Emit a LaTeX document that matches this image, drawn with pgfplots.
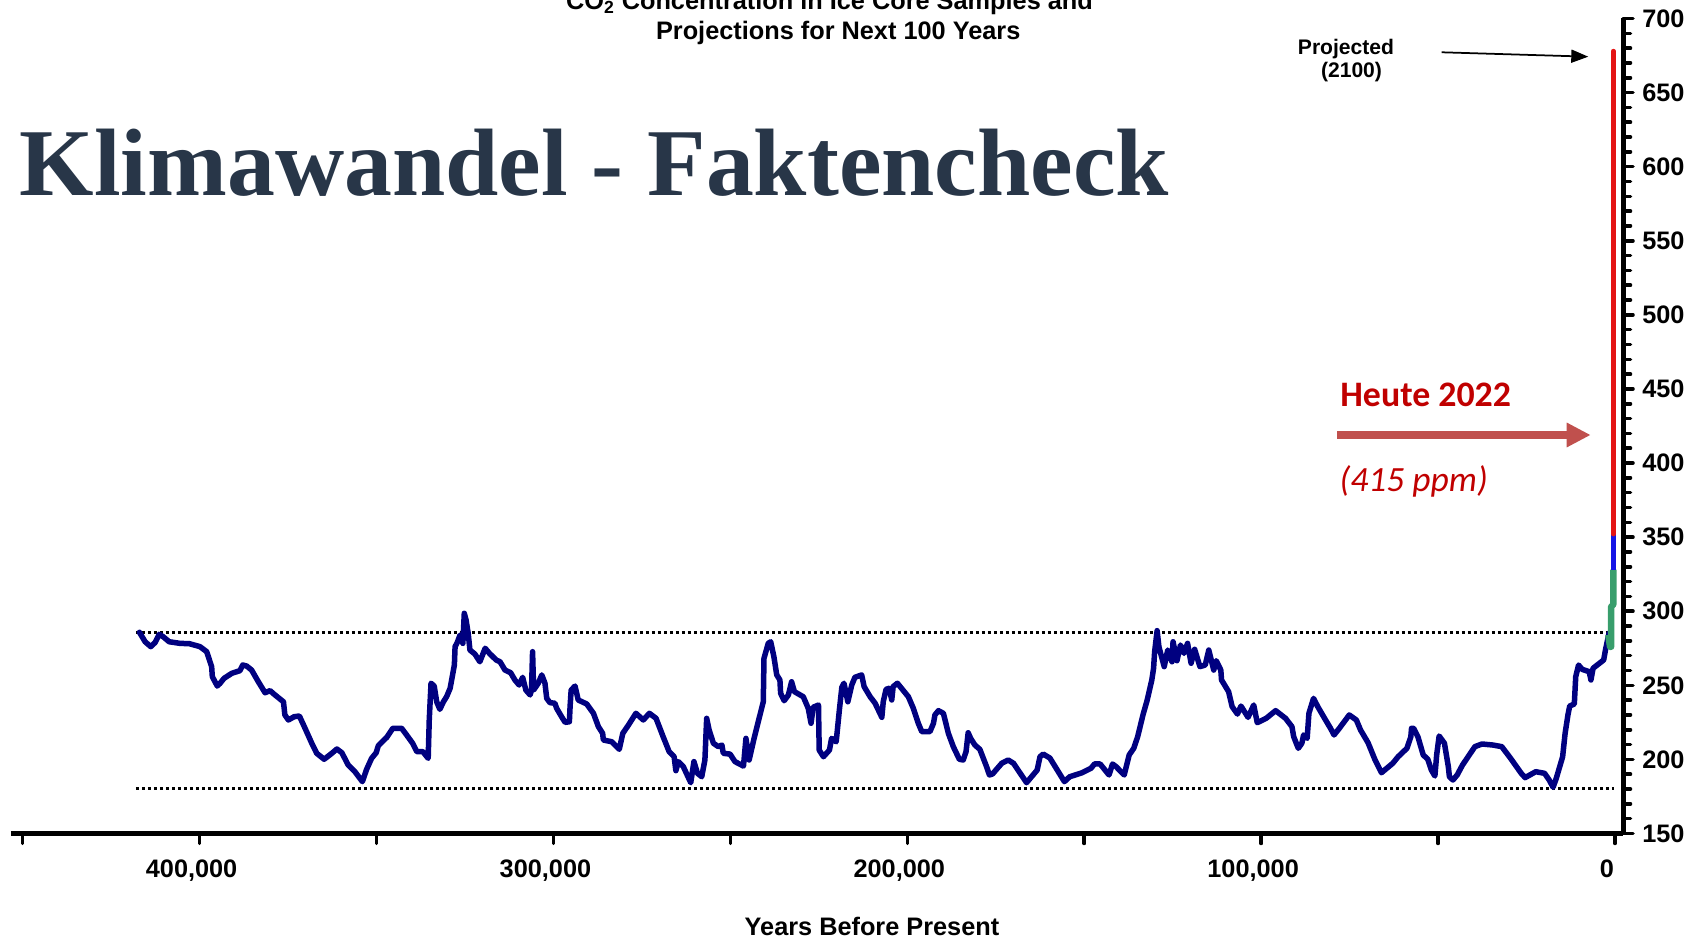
\documentclass[border=0pt]{standalone}
\usepackage{fontspec}
\setmainfont{Liberation Sans}
\newfontfamily\titleserif{Liberation Serif}
\newfontfamily\carlito{Carlito}
\usepackage{pgfplots}
\pgfplotsset{compat=1.18}
\usetikzlibrary{arrows.meta}
\definecolor{navyline}{RGB}{0,0,128}
\definecolor{projred}{RGB}{228,20,20}
\definecolor{projblue}{RGB}{20,20,230}
\definecolor{projgreen}{RGB}{56,158,108}
\definecolor{heutered}{RGB}{192,0,0}
\definecolor{arrowred}{RGB}{192,80,77}
\definecolor{slate}{RGB}{40,54,72}
\begin{document}
\begin{tikzpicture}
\useasboundingbox (0,0) rectangle (33.96,18.82);
\begin{axis}[
  at={(0.22cm,2.15cm)}, anchor=south west,
  scale only axis, width=32.24cm, height=16.3cm,
  xmin=-453300, xmax=2260, ymin=150, ymax=700,
  axis x line*=bottom, axis y line*=right,
  axis line style={line width=0.1cm, black},
  tick align=outside,
  major tick length=0.2cm, minor tick length=0.15cm,
  tick style={line width=0.07cm, black, line cap=round},
  scaled x ticks=false, scaled y ticks=false,
  xtick={-450000,-400000,-350000,-300000,-250000,-200000,-150000,-100000,-50000,0},
  xticklabels={,400{,}000,,300{,}000,,200{,}000,,100{,}000,,0},
  ytick={150,200,...,700},
  minor y tick num=4,
  /pgf/number format/assume math mode=true,
  tick label style={font=\fontsize{14.4}{17}\selectfont\bfseries},
  xticklabel style={inner sep=0pt, anchor=north, yshift=-0.31cm, xshift=-0.16cm},
  yticklabel style={inner sep=0pt, anchor=west, xshift=0.18cm},
  clip=false,
]
% reference levels
\addplot[black, line width=0.052cm, dash pattern=on 0.06cm off 0.06cm] coordinates {(-418000,285.8) (-200,285.8)};
\addplot[black, line width=0.052cm, dash pattern=on 0.06cm off 0.06cm] coordinates {(-418000,180.5) (-200,180.5)};
% ice core record
\addplot[navyline, line width=0.11cm, line join=round, line cap=round] coordinates {
(-417000,285.8) (-415400,279.4) (-413800,276.1) (-412600,278.8) (-411400,284.4) (-410300,282.8)
(-408600,279.4) (-405500,278.3) (-402900,278.1) (-399900,276.1) (-398000,272.7) (-396600,262.6)
(-396400,255.8) (-395000,249.5) (-394200,251.4) (-393100,254.7) (-390900,258.1) (-388600,259.9)
(-387800,263.7) (-386700,263.0) (-385300,260.3) (-383400,252.4) (-381500,245.0) (-380100,246.4)
(-378700,243.5) (-376300,238.9) (-375900,230.0) (-374900,226.6) (-373300,228.8) (-371800,229.3)
(-370200,221.0) (-368300,210.9) (-366900,204.1) (-364800,200.1) (-362900,203.6) (-361200,207.0)
(-359800,204.5) (-358000,196.2) (-356100,191.7) (-354000,185.0) (-352800,193.3) (-351400,200.7)
(-350100,204.5) (-349500,209.2) (-347100,214.9) (-345400,221.0) (-342900,221.0) (-341500,216.5)
(-339800,210.9) (-338600,205.2) (-336900,205.2) (-335400,200.7) (-335100,226.6) (-334600,251.4)
(-333700,249.5) (-333000,238.9) (-332100,233.8) (-331100,238.9) (-330200,242.3) (-329200,248.0)
(-328000,263.7) (-327800,276.1) (-327200,278.8) (-326400,283.9) (-325600,278.3) (-325200,298.6)
(-324700,294.1) (-324100,285.1) (-323600,273.8) (-322200,271.1) (-320800,265.9) (-319300,275.0)
(-318100,271.6) (-316200,267.1) (-315100,265.9) (-313700,260.3) (-312100,258.5) (-310900,253.6)
(-309700,250.2) (-308700,255.4) (-307800,246.8) (-306600,243.5) (-306200,246.8) (-305900,272.7)
(-305600,246.8) (-304300,251.4) (-303300,257.0) (-302400,251.4) (-301900,241.2) (-301000,238.3)
(-299600,237.9) (-299100,234.5) (-297700,228.8) (-296700,225.0) (-295500,225.4) (-295300,235.6)
(-295000,246.8) (-293900,249.5) (-293000,240.1) (-290600,237.4) (-288700,231.1) (-287300,222.1)
(-286100,217.6) (-285900,213.1) (-283500,211.9) (-281400,206.8) (-280400,217.6) (-278800,223.2)
(-276700,231.1) (-274600,226.6) (-272900,231.1) (-271000,227.7) (-269000,215.3) (-267300,205.2)
(-265900,201.8) (-265400,192.4) (-264700,198.5) (-263300,195.1) (-261200,184.3) (-260300,198.5)
(-259300,190.6) (-258100,188.3) (-257200,199.6) (-256700,227.7) (-256000,219.8) (-254800,210.9)
(-253400,208.6) (-252400,209.7) (-252000,204.1) (-250100,203.6) (-248700,198.5) (-246300,195.5)
(-245600,214.2) (-244700,199.6) (-243300,214.2) (-240700,238.9) (-240500,268.2) (-239300,278.3)
(-238600,279.4) (-237700,269.3) (-236900,257.0) (-236000,253.6) (-235800,244.6) (-234800,239.6)
(-233600,243.5) (-232700,252.4) (-231900,245.7) (-229400,242.3) (-228000,234.5) (-227200,224.4)
(-226600,235.2) (-225100,236.7) (-224900,206.3) (-223700,201.8) (-222000,206.3) (-221400,214.2)
(-220100,211.9) (-219200,233.3) (-218500,248.7) (-217900,251.4) (-216800,238.9) (-215700,250.2)
(-214800,255.4) (-212900,257.0) (-212200,249.1) (-210500,242.3) (-209100,237.9) (-207200,228.4)
(-206800,238.9) (-206000,247.3) (-205100,248.0) (-204400,240.1) (-204000,249.1) (-202800,251.4)
(-199700,242.3) (-198300,234.5) (-196900,224.4) (-195900,218.7) (-193600,218.7) (-192600,224.4)
(-192200,230.0) (-191200,232.9) (-189800,231.1) (-188400,217.6) (-187000,208.6) (-185300,200.1)
(-184200,199.6) (-183400,205.2) (-182800,218.0) (-182100,214.2) (-180900,209.7) (-179500,206.8)
(-177600,195.1) (-176800,189.5) (-175900,190.2) (-173300,197.4) (-171500,199.6) (-170000,197.4)
(-166300,184.3) (-163300,192.8) (-162500,201.8) (-161600,203.6) (-159700,200.9) (-155600,185.0)
(-154100,188.3) (-150600,191.0) (-148100,194.0) (-147100,196.9) (-145500,196.9) (-143000,189.5)
(-142000,196.9) (-141000,195.1) (-138700,189.5) (-137300,203.0) (-136000,207.5) (-134900,215.3)
(-133400,230.0) (-132200,240.1) (-130900,253.6) (-130400,261.5) (-130100,272.7) (-129400,286.9)
(-128900,276.1) (-127400,262.6) (-126400,273.8) (-125200,265.9) (-124900,279.4) (-123800,266.6)
(-122800,277.2) (-121800,271.6) (-120800,278.3) (-119800,264.9) (-118800,274.3) (-117300,262.6)
(-115800,263.7) (-114800,273.8) (-113400,260.3) (-112700,266.6) (-111400,260.3) (-111200,253.6)
(-109200,245.7) (-108200,235.6) (-106700,230.6) (-105700,236.0) (-103700,228.4) (-102100,236.7)
(-101100,224.8) (-98600,227.7) (-95900,232.9) (-93100,227.7) (-91300,222.1) (-90800,215.3)
(-89500,207.5) (-88500,210.9) (-88000,216.5) (-87000,214.2) (-86500,231.1) (-85200,241.2)
(-84000,235.6) (-81800,226.6) (-80400,221.0) (-79400,216.5) (-77900,221.0) (-75100,230.0)
(-73100,226.6) (-71900,219.8) (-69800,211.3) (-67800,199.6) (-66000,191.0) (-62800,197.4)
(-61300,201.8) (-58800,207.5) (-57700,215.3) (-57500,221.0) (-56900,221.0) (-55700,215.3)
(-54200,203.0) (-52900,200.1) (-51900,192.8) (-50900,188.8) (-50400,203.0) (-49700,215.8)
(-48200,210.9) (-47100,195.1) (-46800,188.3) (-45800,186.1) (-44600,189.5) (-43100,196.2)
(-39600,208.6) (-37600,210.4) (-34500,209.7) (-32000,208.6) (-29500,200.7) (-26500,190.6)
(-25400,187.7) (-22400,191.7) (-19900,190.6) (-18600,186.1) (-17500,181.2) (-16600,187.2)
(-14800,201.8) (-14100,217.6) (-13300,230.0) (-12800,236.0) (-11500,237.4) (-11100,255.8)
(-10300,263.7) (-9300,260.8) (-7300,259.2) (-6800,253.6) (-6200,261.5) (-3200,267.1)
(-2700,273.8) (-1700,285.1)
};
% industrial era and projection
\addplot[projgreen, line width=0.13cm, line join=round] coordinates {
(-1900,284) (-1400,276) (-1100,276) (-1100,303) (-480,304.5) (-480,328)
};
\addplot[projblue, line width=0.1cm] coordinates {(-480,328) (-480,352)};
\addplot[projred, line width=0.09cm, line cap=round] coordinates {(-480,352) (-480,678)};
\end{axis}
% titles and annotations
\node[anchor=base, inner sep=0pt, font=\fontsize{14.4}{17}\selectfont\bfseries] at (16.59,18.62) {CO\textsubscript{2} Concentration in Ice Core Samples and};
\node[anchor=base, inner sep=0pt, font=\fontsize{14.4}{17}\selectfont\bfseries] at (16.764,18.02) {Projections for Next 100 Years};
\node[anchor=base west, inner sep=0pt, text=slate, font=\fontsize{54.5}{60}\selectfont\titleserif\bfseries] at (0.386,14.906) {Klimawandel - Faktencheck};
\node[anchor=base, inner sep=0pt, font=\fontsize{12}{14}\selectfont\bfseries] at (26.92,17.72) {Projected};
\node[anchor=base, inner sep=0pt, font=\fontsize{12}{14}\selectfont\bfseries] at (27.03,17.26) {(2100)};
\draw[black, line width=0.035cm, -{Triangle[length=0.34cm, width=0.26cm]}] (28.834,17.774) -- (31.766,17.686);
\draw[arrowred, line width=0.174cm, -{Triangle[length=0.48cm, width=0.46cm]}] (26.746,10.12) -- (31.814,10.12);
\node[anchor=base west, inner sep=0pt, text=heutered, font=\fontsize{20.4}{24}\selectfont\carlito\bfseries] at (26.8,10.686) {Heute 2022};
\node[anchor=base west, inner sep=0pt, text=heutered, font=\fontsize{20.2}{24}\selectfont\carlito\itshape] at (26.786,8.986) {(415 ppm)};
\node[anchor=base, inner sep=0pt, font=\fontsize{14.4}{17}\selectfont\bfseries] at (17.44,0.1) {Years Before Present};
\end{tikzpicture}
\end{document}
